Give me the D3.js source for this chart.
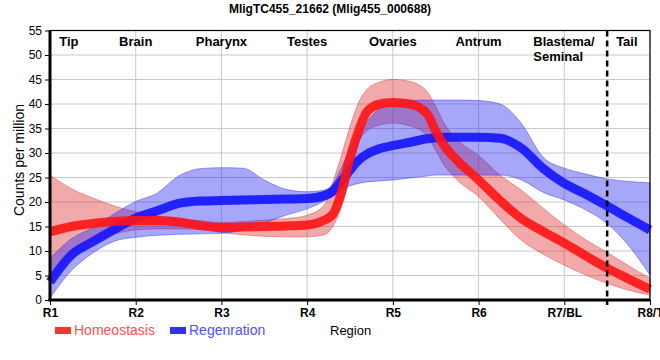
<!DOCTYPE html>
<html>
<head>
<meta charset="utf-8">
<script src="https://cdn.jsdelivr.net/npm/d3@7"></script>
<style>
  body { margin: 0; background: #fff; }
  text { font-family: "Liberation Sans", Arial, sans-serif; }
</style>
</head>
<body>
<svg id="chart"></svg>
<script>
// chart values

var title = "MligTC455_21662 (Mlig455_000688)";
var regions = ["R1", "R2", "R3", "R4", "R5", "R6", "R7/BL", "R8/T"];
var tissueNames = ["Tip", "Brain", "Pharynx", "Testes", "Ovaries", "Antrum", "Blastema/\nSeminal", "Tail"];
var tissuePos = [0.22, 1, 2, 3, 4, 5, 6, 6.73];
var yTicks = [0, 5, 10, 15, 20, 25, 30, 35, 40, 45, 50, 55];
var tailBorder = 6.5;

// positions along the region axis (0 = R1 ... 7 = R8/T)
var pos = [0, 0.25, 0.5, 0.75, 1, 1.25, 1.5, 1.75, 2, 2.25, 2.5, 2.75, 3, 3.2, 3.3, 3.4, 3.5, 3.6, 3.7, 3.85,
           4, 4.2, 4.4, 4.5, 4.6, 4.75, 5, 5.25, 5.5, 5.75, 6, 6.25, 6.5, 6.75, 7];

var homeoMean = [13.9, 15.0, 15.6, 16.0, 16.2, 16.2, 15.9, 15.2, 14.8, 14.9, 15.0, 15.1, 15.3, 16.3, 17.5, 22, 29, 34.5, 38.5, 40,
                 40.3, 40, 38, 34.5, 31.5, 28.5, 24.5, 20.3, 16.6, 14, 11.6, 9, 6.5, 4.3, 2.2];
var homeoHigh = [25.5, 22.7, 20.8, 19.2, 18.0, 17.2, 16.6, 16.2, 15.8, 16.0, 16.3, 16.6, 17.3, 19.4, 24, 29.5, 35.4, 40.3, 43, 44.5,
                 45, 44.6, 42.5, 39.5, 36, 32.7, 29.5, 25.5, 22.4, 18.8, 15.3, 12.3, 9.7, 7, 4.4];
var homeoLow = [3, 9.5, 12, 13.5, 14.3, 14.5, 14.5, 14.4, 13.8, 13.3, 13, 12.9, 12.9, 13.3, 15, 19, 25, 32, 34.6, 35.7,
                36.1, 35.5, 33.5, 30.5, 27.5, 24.5, 21.1, 16.5, 12.2, 9.4, 7.1, 5.1, 3.4, 2.0, 1.0];

var regenMean = [3.7, 9.2, 11.9, 14.4, 16.7, 18.2, 19.7, 20.2, 20.3, 20.4, 20.5, 20.6, 20.7, 21.3, 22.2, 24.3, 26.5, 28.5, 29.8, 30.9,
                 31.5, 32.2, 32.9, 33.1, 33.2, 33.2, 33.2, 33.0, 31.0, 26.9, 23.8, 21.6, 19.2, 16.7, 14.3];
var regenHigh = [8.5, 12.5, 14.8, 17.6, 20.1, 21.8, 25.3, 26.8, 27, 26.9, 24.5, 22.6, 22.1, 22.4, 23.7, 27, 31, 34.5, 36.5, 39.2,
                 40.2, 40.7, 40.8, 40.8, 40.8, 40.8, 40.7, 40, 36, 29.2, 26.9, 25.7, 24.7, 24.2, 23.9];
var regenLow = [0.4, 6, 9.6, 12, 12.8, 13.2, 13.4, 13.5, 13.6, 14.3, 15.7, 17.3, 18.6, 20.2, 21.2, 22.3, 23.3, 23.8, 24.1, 24.3,
                24.5, 24.9, 25.3, 25.5, 25.5, 25.5, 25.5, 25.5, 24.5, 22, 20.4, 18.4, 15.6, 11.1, 5.1];

var seriesNames = ["Homeostasis", "Regenration"];

var width = 660;
var height = 360;

var svg = d3.select("#chart")
    .attr("width", width)
    .attr("height", height);

var x = d3.scaleLinear().domain([0, 7]).range([50, 650]);
var y = d3.scaleLinear().domain([0, 55]).range([300, 30.5]);

// grid
svg.append("g")
    .selectAll("line.hgrid")
    .data(yTicks)
    .enter()
    .append("line")
        .attr("x1", x(0)).attr("x2", x(7))
        .attr("y1", d => y(d)).attr("y2", d => y(d))
        .attr("stroke", "#c8c8c8").attr("stroke-width", 1);

svg.append("g")
    .selectAll("line.vgrid")
    .data(regions)
    .enter()
    .append("line")
        .attr("x1", (d, i) => x(i)).attr("x2", (d, i) => x(i))
        .attr("y1", y(0)).attr("y2", y(55))
        .attr("stroke", "#c8c8c8").attr("stroke-width", 1);

// bands and lines
var band = d3.area()
    .x(d => x(d.p))
    .y0(d => y(d.lo))
    .y1(d => y(d.hi))
    .curve(d3.curveMonotoneX);

var line = d3.line()
    .x(d => x(d.p))
    .y(d => y(d.v))
    .curve(d3.curveMonotoneX);

function rows(mean, lo, hi) {
    return pos.map((p, i) => ({ p: p, v: mean[i], lo: lo[i], hi: hi[i] }));
}

var homeo = rows(homeoMean, homeoLow, homeoHigh);
var regen = rows(regenMean, regenLow, regenHigh);

svg.append("path")
    .attr("d", band(homeo))
    .attr("fill", "#e03232").attr("fill-opacity", 0.42)
    .attr("stroke", "#e03232").attr("stroke-opacity", 0.45).attr("stroke-width", 1);

svg.append("path")
    .attr("d", band(regen))
    .attr("fill", "#2e2ef0").attr("fill-opacity", 0.42)
    .attr("stroke", "#2e2ef0").attr("stroke-opacity", 0.45).attr("stroke-width", 1);

svg.append("path")
    .attr("d", line(regen))
    .attr("fill", "none")
    .attr("stroke", "#1414ff").attr("stroke-opacity", 0.9)
    .attr("stroke-width", 9);

svg.append("path")
    .attr("d", line(homeo))
    .attr("fill", "none")
    .attr("stroke", "#ff1414").attr("stroke-opacity", 0.9)
    .attr("stroke-width", 9);

// frame
svg.append("rect")
    .attr("x", x(0)).attr("y", y(55))
    .attr("width", x(7) - x(0)).attr("height", y(0) - y(55))
    .attr("fill", "none").attr("stroke", "#000").attr("stroke-width", 1.2);

// axes
var yAxis = svg.append("g")
    .attr("transform", "translate(" + x(0) + ",0)")
    .call(d3.axisLeft(y).tickValues(yTicks).tickSize(5).tickPadding(3));

var xAxis = svg.append("g")
    .attr("transform", "translate(0," + y(0) + ")")
    .call(d3.axisBottom(x).tickValues(d3.range(regions.length))
        .tickFormat(i => regions[i]).tickSize(5).tickPadding(3));

yAxis.select(".domain").attr("stroke-width", 3).attr("d", "M0," + y(0) + "V" + y(55));
xAxis.select(".domain").attr("stroke-width", 3).attr("d", "M" + (x(0) - 1.5) + ",0H" + x(7));
yAxis.selectAll("text").attr("font-size", 12).attr("fill", "#000");
xAxis.selectAll("text").attr("font-size", 12).attr("font-weight", "bold").attr("fill", "#000");
yAxis.selectAll(".tick line").attr("stroke", "#000");
xAxis.selectAll(".tick line").attr("stroke", "#000");

// tail boundary
svg.append("line")
    .attr("x1", x(tailBorder)).attr("x2", x(tailBorder))
    .attr("y1", y(55)).attr("y2", y(0) + 5)
    .attr("stroke", "#000").attr("stroke-width", 2.5)
    .attr("stroke-dasharray", "6,4");

// tissue names
var names = svg.append("g")
    .selectAll("text")
    .data(tissueNames)
    .enter()
    .append("text")
        .attr("x", (d, i) => x(tissuePos[i]))
        .attr("y", 46)
        .attr("text-anchor", d => d.indexOf("\n") >= 0 ? "start" : "middle")
        .attr("font-size", 13)
        .attr("font-weight", "bold");

names.each(function (d, i) {
    var parts = d.split("\n");
    var t = d3.select(this);
    if (parts.length > 1) t.attr("x", x(tissuePos[i]) - 31);
    parts.forEach((s, k) => {
        t.append("tspan")
            .attr("x", t.attr("x"))
            .attr("dy", k === 0 ? 0 : 15)
            .text(s);
    });
});

// title
svg.append("text")
    .attr("x", 330).attr("y", 13)
    .attr("text-anchor", "middle")
    .attr("font-size", 12)
    .attr("font-weight", "bold")
    .text(title);

// axis titles
svg.append("text")
    .attr("transform", "translate(24,160) rotate(-90)")
    .attr("text-anchor", "middle")
    .attr("font-size", 14)
    .text("Counts per million");

svg.append("text")
    .attr("x", 330).attr("y", 335)
    .attr("font-size", 13)
    .text("Region");

// legend
var legendColors = ["#ff3030", "#3030ff"];
var legendText = ["#ff5050", "#5050ff"];
var legendX = [55, 170];

var legend = svg.append("g")
    .selectAll("g")
    .data(seriesNames)
    .enter()
    .append("g")
        .attr("transform", (d, i) => "translate(" + legendX[i] + ",0)");

legend.append("rect")
    .attr("x", 0).attr("y", 327)
    .attr("width", 16).attr("height", 7)
    .attr("fill", (d, i) => legendColors[i]);

legend.append("text")
    .attr("x", 19).attr("y", 335)
    .attr("font-size", 14)
    .attr("fill", (d, i) => legendText[i])
    .text(d => d);
</script>
</body>
</html>
